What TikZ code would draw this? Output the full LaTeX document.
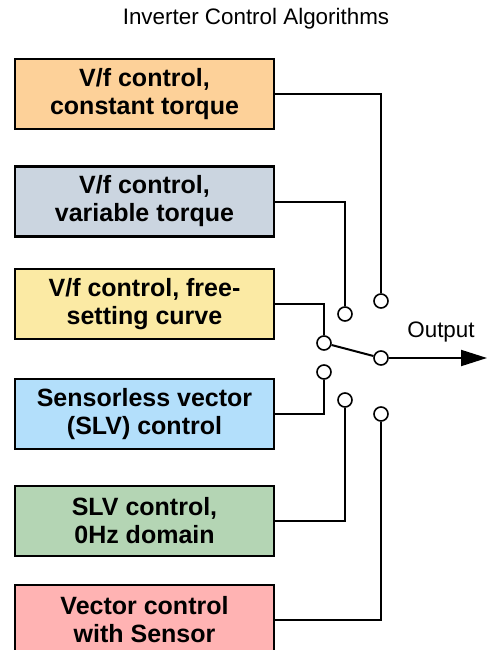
\documentclass[tikz,border=0pt]{standalone}
\usepackage{fontspec}
\setmainfont{Liberation Sans}
\usetikzlibrary{arrows.meta}

\definecolor{boxorange}{HTML}{FDD199}
\definecolor{boxgrey}{HTML}{CBD5E0}
\definecolor{boxyellow}{HTML}{FBEAA4}
\definecolor{boxblue}{HTML}{B3DFFB}
\definecolor{boxgreen}{HTML}{B4D5B4}
\definecolor{boxpink}{HTML}{FFB3B3}

\tikzset{
    algbox/.style={draw=black, line width=2.2pt, minimum width=259pt, minimum height=70pt,
        align=center, font=\fontsize{25}{28}\selectfont\bfseries, inner sep=0pt},
    pin/.style={draw=black, line width=1.6pt, fill=white, circle, minimum size=14pt, inner sep=0pt},
    wire/.style={line width=2pt}
}

\begin{document}
\begin{tikzpicture}[x=1pt, y=-1pt]
    \useasboundingbox (0,0) rectangle (490,650);

    % Title
    \node[font=\fontsize{22.4}{26}\selectfont] (title) at (256,19) {Inverter Control Algorithms};

    % Algorithm boxes
    \node[algbox, fill=boxorange] (vfct) at (144.5,94) {V/f control,\\constant torque};
    \node[algbox, fill=boxgrey]   (vfvt) at (144.5,201.5) {V/f control,\\variable torque};
    \node[algbox, fill=boxyellow] (vffs) at (144.5,304) {V/f control, free-\\setting curve};
    \node[algbox, fill=boxblue]   (slv)  at (144.5,414) {Sensorless vector\\(SLV) control};
    \node[algbox, fill=boxgreen]  (slvz) at (144.5,521) {SLV control,\\0Hz domain};
    \node[algbox, fill=boxpink]   (vcs)  at (144.5,620) {Vector control\\with Sensor};

    % Switch contacts
    \node[pin] (p1) at (381,301) {};
    \node[pin] (p2) at (345,314) {};
    \node[pin] (p3) at (324,343) {};
    \node[pin] (p4) at (324,372) {};
    \node[pin] (p5) at (345,400) {};
    \node[pin] (p6) at (381,414) {};
    \node[pin] (pout) at (381,358) {};

    % Wires from boxes to contacts
    \foreach \alg/\pin in {vfct/p1, vfvt/p2, vffs/p3, slv/p4, slvz/p5, vcs/p6} {
        \draw[wire] (\alg.east) -| (\pin);
    }

    % Switch blade and output
    \draw[wire] (p3) -- (pout);
    \coordinate (out) at (487,358);
    \draw[wire, -{Triangle[length=26pt, width=16pt]}] (pout) -- (out);
    \node[font=\fontsize{22.4}{26}\selectfont, anchor=base] (outlbl) at (441,337) {Output};
\end{tikzpicture}
\end{document}
